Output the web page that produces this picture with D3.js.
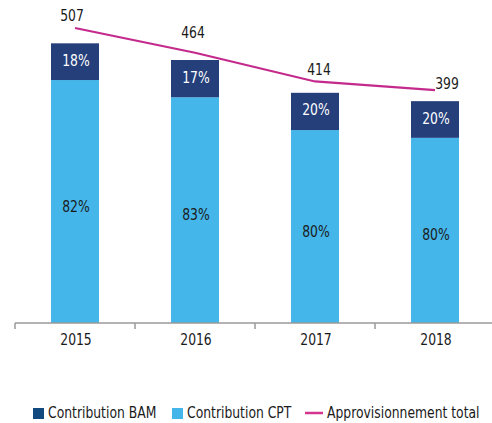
<!DOCTYPE html>
<html>
<head>
<meta charset="utf-8">
<script src="https://cdn.jsdelivr.net/npm/d3@7"></script>
<style>
  body { margin: 0; background: #fff; }
  text { font-family: "DejaVu Sans Condensed", "Liberation Sans", sans-serif; }
</style>
</head>
<body>
<svg width="492" height="423"></svg>
<script>
// data
let years = ["2015", "2016", "2017", "2018"];
let bamValues = [66, 67, 67, 66];
let cptValues = [437, 406, 347, 333];
let bamPct = ["18%", "17%", "20%", "20%"];
let cptPct = ["82%", "83%", "80%", "80%"];
let totals = [507, 464, 414, 399];

// small hand nudges for the total labels (dx, dy from the point)
let labelNudge = [[-3, -7], [-2, -15], [4, -6], [12, -1]];

// the original font is a narrow one, squeeze the text a bit
let squeeze = 0.86;
function place(xv, yv) {
    return "translate(" + xv + "," + yv + ") scale(" + squeeze + ",1)";
}

let svg = d3.select("svg");

let x = d3.scaleBand()
    .domain(years)
    .range([15, 495])
    .paddingInner(0.6)
    .paddingOuter(0.3);

let y = d3.scaleLinear().domain([0, 560]).range([323, 323 - 560 * 0.556]);
let yLine = d3.scaleLinear().domain([0, 550]).range([319.5, 319.5 - 550 * 0.575]);

let rows = years.map(function (d, i) {
    return { year: d, bam: bamValues[i], cpt: cptValues[i], bamPct: bamPct[i], cptPct: cptPct[i], total: totals[i] };
});

let stack = d3.stack().keys(["cpt", "bam"])(rows);
let colors = { cpt: "#45b6e9", bam: "#253f7b" };

let layers = svg.append("g")
    .selectAll("g")
    .data(stack)
    .join("g")
    .attr("fill", function (d) { return colors[d.key]; });

layers.selectAll("rect")
    .data(function (d) { return d; })
    .join("rect")
    .attr("x", function (d) { return x(d.data.year); })
    .attr("width", x.bandwidth())
    .attr("y", function (d) { return y(d[1]); })
    .attr("height", function (d) { return y(d[0]) - y(d[1]); });

// percentage labels
layers.selectAll("text")
    .data(function (d) { return d.map(function (p) { p.key = d.key; return p; }); })
    .join("text")
    .attr("transform", function (d) {
        return place(x(d.data.year) + x.bandwidth() / 2 + 1,
            (y(d[0]) + y(d[1])) / 2 + (d.key === "bam" ? 4 : 10));
    })
    .attr("text-anchor", "middle")
    .attr("font-size", 16)
    .attr("fill", function (d) { return d.key === "bam" ? "#fff" : "#1a1a1a"; })
    .text(function (d) { return d.key === "bam" ? d.data.bamPct : d.data.cptPct; });

// axis
let axis = svg.append("g").attr("transform", "translate(0,323)");
axis.append("line")
    .attr("x1", 15).attr("x2", 492)
    .attr("stroke", "#9a9a9a").attr("stroke-width", 1.5);

let gap = (x.step() - x.bandwidth()) / 2;
let bounds = years.map(function (d) { return x(d) - gap; }).concat([x(years[3]) + x.bandwidth() + gap]);
axis.selectAll(".tick-mark")
    .data(bounds)
    .join("line")
    .attr("class", "tick-mark")
    .attr("x1", function (d) { return d; }).attr("x2", function (d) { return d; })
    .attr("y1", 0).attr("y2", 6)
    .attr("stroke", "#9a9a9a").attr("stroke-width", 1.5);

axis.selectAll(".year")
    .data(years)
    .join("text")
    .attr("class", "year")
    .attr("transform", function (d) { return place(x(d) + x.bandwidth() / 2 + 1, 22); })
    .attr("text-anchor", "middle")
    .attr("font-size", 16)
    .attr("fill", "#1a1a1a")
    .text(function (d) { return d; });

// total line
let line = d3.line()
    .x(function (d) { return x(d.year) + x.bandwidth() / 2; })
    .y(function (d) { return yLine(d.total); });

svg.append("path")
    .datum(rows)
    .attr("d", line)
    .attr("fill", "none")
    .attr("stroke", "#c42a8c")
    .attr("stroke-width", 2.2);

svg.selectAll(".total")
    .data(rows)
    .join("text")
    .attr("class", "total")
    .attr("transform", function (d, i) {
        return place(x(d.year) + x.bandwidth() / 2 + labelNudge[i][0], yLine(d.total) + labelNudge[i][1]);
    })
    .attr("text-anchor", "middle")
    .attr("font-size", 16)
    .attr("fill", "#1a1a1a")
    .text(function (d) { return d.total; });

// legend
let legend = svg.append("g").attr("transform", "translate(0,418)");
legend.append("rect").attr("x", 33).attr("y", -10).attr("width", 11).attr("height", 11).attr("fill", "#12497f");
legend.append("text").attr("transform", place(48, 0)).attr("font-size", 16).attr("fill", "#1a1a1a").text("Contribution BAM");
legend.append("rect").attr("x", 172).attr("y", -10).attr("width", 11).attr("height", 11).attr("fill", colors.cpt);
legend.append("text").attr("transform", place(187, 0)).attr("font-size", 16).attr("fill", "#1a1a1a").text("Contribution CPT");
legend.append("line").attr("x1", 305).attr("x2", 323).attr("y1", -5).attr("y2", -5)
    .attr("stroke", "#d3358f").attr("stroke-width", 2.5);
legend.append("text").attr("transform", place(327, 0)).attr("font-size", 16).attr("fill", "#1a1a1a").text("Approvisionnement total");
</script>
</body>
</html>
